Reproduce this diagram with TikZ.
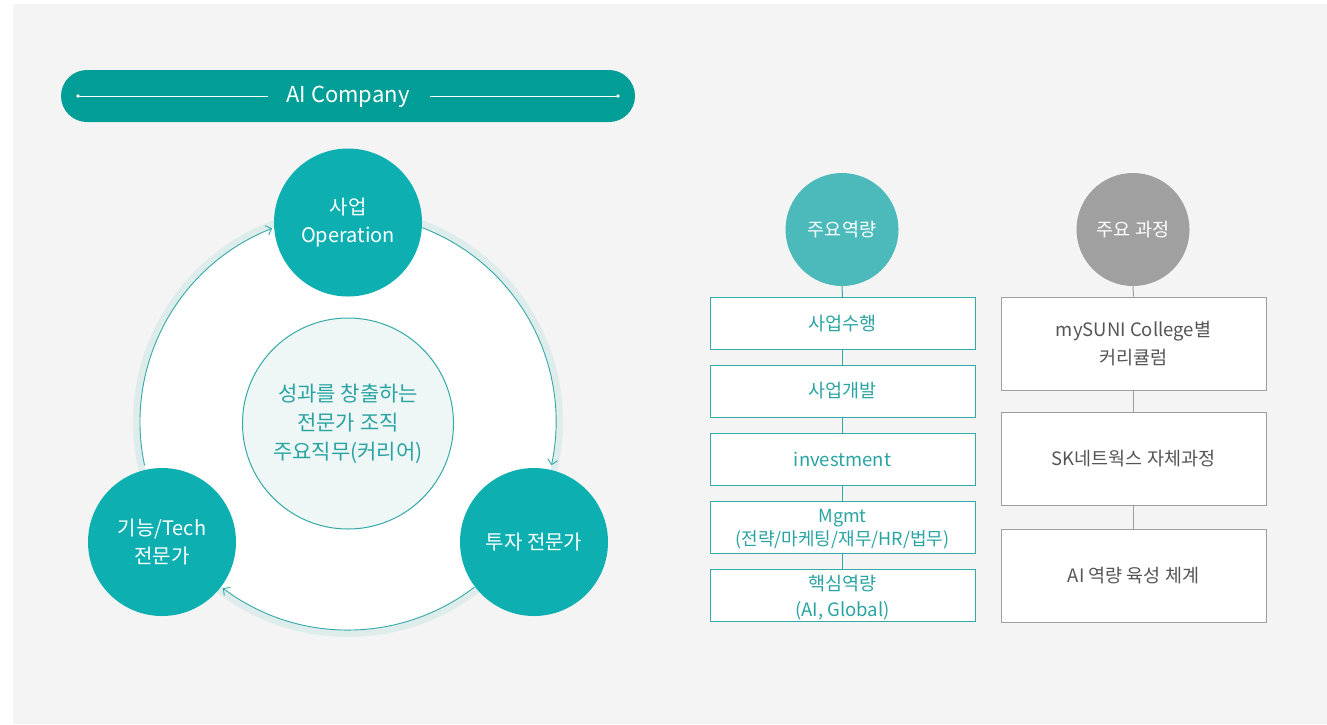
\documentclass[tikz,border=0pt]{standalone}
\usepackage{fontspec}
\setmainfont{Noto Sans CJK KR}
\usetikzlibrary{arrows.meta}
\definecolor{bgray}{HTML}{F4F4F4}
\definecolor{pill}{HTML}{009E96}
\definecolor{tealc}{HTML}{0EAFB1}
\definecolor{teall}{HTML}{4CB9BB}
\definecolor{tealtxt}{HTML}{2AA4A3}
\definecolor{tealline}{HTML}{33A9A8}
\definecolor{ringc}{HTML}{DEEDEC}
\definecolor{innerfill}{HTML}{EEF7F6}
\definecolor{grayc}{HTML}{A0A0A0}
\definecolor{grayline}{HTML}{9E9E9E}
\definecolor{graytxt}{HTML}{555555}
\tikzset{
  bigcirc/.style={circle, fill=tealc, minimum size=148pt, inner sep=0pt, text=white, align=center, font=\fontsize{20}{28}\selectfont},
  headcirc/.style={circle, minimum size=113pt, inner sep=0pt, text=white, align=center, font=\fontsize{18.5}{24}\selectfont},
  tbox/.style={draw=tealline, line width=0.9pt, fill=white, minimum width=265pt, minimum height=52pt, inner sep=0pt, text=tealtxt, align=center, font=\fontsize{18.5}{24}\selectfont},
  gbox/.style={draw=grayline, line width=0.9pt, fill=white, minimum width=265pt, minimum height=93pt, inner sep=0pt, text=graytxt, align=center, font=\fontsize{18.5}{28}\selectfont},
  cycarrow/.style={draw=tealline, line width=0.9pt, -{Straight Barb[length=5pt,width=10pt]}},
}
\begin{document}
\begin{tikzpicture}[x=1pt,y=-1pt]
\useasboundingbox (0,0) rectangle (1327,724);
\fill[white] (0,0) rectangle (1327,724);
\fill[bgray] (13,4) rectangle (1327,724);

% top pill
\fill[pill, rounded corners=26pt] (61,70) rectangle (635,122);
\node[text=white, font=\fontsize{22}{26}\selectfont] (title) at (348,96.5) {AI Company};
\coordinate (l1) at (78,96);
\coordinate (l2) at (268,96);
\coordinate (r1) at (430,96);
\coordinate (r2) at (618,96);
\draw[white, line width=1pt] (l1) -- (l2);
\draw[white, line width=1pt] (r1) -- (r2);
\fill[white] (l1) circle (1.8);
\fill[white] (r2) circle (1.8);

% big cycle
\coordinate (cen) at (348,422);
\fill[white, draw=ringc, line width=7pt] (cen) circle (211.5);
\draw[cycarrow] ([shift={(-69:208)}]cen) arc[start angle=-69, end angle=12, radius=208];
\draw[cycarrow] ([shift={(52.6:208)}]cen) arc[start angle=52.6, end angle=127, radius=208];
\draw[cycarrow] ([shift={(168:208)}]cen) arc[start angle=168, end angle=248.6, radius=208];

\node[circle, draw=tealline, line width=1pt, fill=innerfill, minimum size=211pt, inner sep=0pt,
      text=tealtxt, align=center, font=\fontsize{21}{29}\selectfont] (core) at (348,423.5)
  {성과를 창출하는\\전문가 조직\\주요직무(커리어)};

\node[bigcirc] (op) at (348,222.5) {사업\\Operation};
\node[bigcirc] (inv) at (534,542) {투자 전문가};
\node[bigcirc] (tech) at (162,542) {기능/Tech\\전문가};

% 주요역량 column
\node[headcirc, fill=teall] (cap) at (842,229.5) {주요역량};
\node[tbox] (b1) at (842.5,323.5) {사업수행};
\node[tbox] (b2) at (842.5,391) {사업개발};
\node[tbox] (b3) at (842.5,459) {investment};
\node[tbox, font=\fontsize{18}{23}\selectfont] (b4) at (842.5,527) {\raisebox{-2.5pt}[\height][\depth]{\parbox{260pt}{\centering Mgmt\\(전략/마케팅/재무/HR/법무)}}};
\node[tbox, font=\fontsize{18.5}{26}\selectfont] (b5) at (842.5,595) {\raisebox{-3pt}[\height][\depth]{\parbox{260pt}{\centering 핵심역량\\(AI, Global)}}};
\draw[tealline, line width=1pt] (cap.south) -- (b1.north);
\draw[tealline, line width=1pt] (b1.south) -- (b2.north);
\draw[tealline, line width=1pt] (b2.south) -- (b3.north);
\draw[tealline, line width=1pt] (b3.south) -- (b4.north);
\draw[tealline, line width=1pt] (b4.south) -- (b5.north);

% 주요 과정 column
\node[headcirc, fill=grayc] (course) at (1133,229.5) {주요 과정};
\node[gbox] (g1) at (1133.5,343.5) {mySUNI College별\\커리큘럼};
\node[gbox] (g2) at (1133.5,459) {SK네트웍스 자체과정};
\node[gbox] (g3) at (1133.5,575.5) {AI 역량 육성 체계};
\draw[grayline, line width=1pt] (course.south) -- (g1.north);
\draw[grayline, line width=1pt] (g1.south) -- (g2.north);
\draw[grayline, line width=1pt] (g2.south) -- (g3.north);
\end{tikzpicture}
\end{document}
